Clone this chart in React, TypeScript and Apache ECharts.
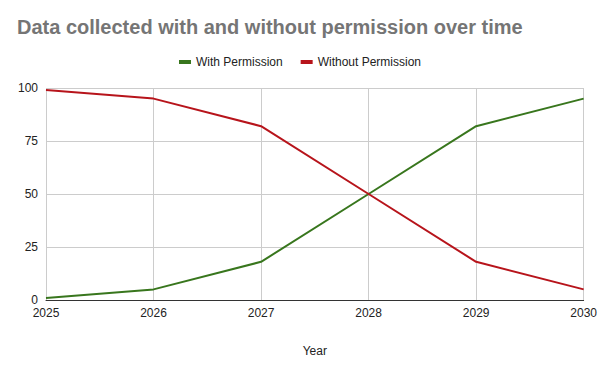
import React, { useEffect, useRef } from "react";
import * as echarts from "echarts";

const years = ["2025", "2026", "2027", "2028", "2029", "2030"];
const withPermission = [1, 5, 18, 50, 82, 95];
const withoutPermission = [99, 95, 82, 50, 18, 5];
const yTicks = { min: 0, max: 100, interval: 25 };

const FONT = "'Liberation Sans', Arial, sans-serif";

export default function App() {
  const ref = useRef<HTMLDivElement>(null);
  useEffect(() => {
    if (!ref.current) return;
    const chart = echarts.init(ref.current, undefined, { renderer: "svg" });
    chart.setOption({
      animation: false,
      backgroundColor: "#ffffff",
      title: {
        text: "Data collected with and without permission over time",
        left: 12,
        top: 12,
        textStyle: { fontFamily: FONT, fontWeight: "bold", fontSize: 20, color: "#757575" },
      },
      legend: {
        top: 51,
        left: "center",
        itemWidth: 12,
        itemHeight: 4,
        itemGap: 18,
        icon: "rect",
        textStyle: { fontFamily: FONT, fontSize: 12, color: "#222222" },
        data: ["With Permission", "Without Permission"],
      },
      grid: { left: 46, right: 14, top: 88, bottom: 71, containLabel: false },
      xAxis: {
        type: "category",
        data: years,
        boundaryGap: false,
        name: "Year",
        nameLocation: "middle",
        nameGap: 45,
        nameTextStyle: { fontFamily: FONT, fontSize: 12, color: "#222222" },
        axisLine: { lineStyle: { color: "#333333", width: 1 } },
        axisTick: { show: false },
        axisLabel: { fontFamily: FONT, fontSize: 12, color: "#222222", margin: 7 },
        splitLine: { show: true, lineStyle: { color: "#cccccc", width: 1 } },
      },
      yAxis: {
        type: "value",
        min: yTicks.min,
        max: yTicks.max,
        interval: yTicks.interval,
        axisLine: { show: false },
        axisTick: { show: false },
        axisLabel: { fontFamily: FONT, fontSize: 12, color: "#222222", margin: 8 },
        splitLine: { show: true, lineStyle: { color: "#cccccc", width: 1 } },
      },
      series: [
        {
          name: "With Permission",
          type: "line",
          data: withPermission,
          showSymbol: false,
          symbol: "none",
          lineStyle: { color: "#38761d", width: 2 },
          itemStyle: { color: "#38761d" },
        },
        {
          name: "Without Permission",
          type: "line",
          data: withoutPermission,
          showSymbol: false,
          symbol: "none",
          lineStyle: { color: "#b7141b", width: 2 },
          itemStyle: { color: "#b7141b" },
        },
      ],
    });
    return () => chart.dispose();
  }, []);
  return <div ref={ref} style={{ width: 600, height: 371, position: "absolute", left: 0, top: 0 }} />;
}
